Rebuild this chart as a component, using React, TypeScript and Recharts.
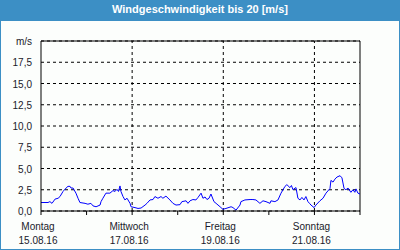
import { LineChart, Line, XAxis, YAxis, CartesianGrid, ReferenceLine } from "recharts"

// hours since Montag 15.08.16 00:00
const hours = [
  0, 3.7, 4.7, 5.8, 7.4, 9.0, 10.0, 11.6, 13.2, 14.2, 15.3, 15.8, 16.9, 18.4, 19.5, 20.5, 23.2, 24.7, 26.3, 27.4,
  29.0, 31.1, 31.6, 32.6, 34.2, 36.3, 37.9, 39.0, 40.0, 40.8, 41.6, 42.1, 43.2, 44.2, 45.3, 46.9, 47.4, 49.5, 51.1, 52.7,
  54.8, 55.8, 57.4, 59.0, 60.0, 61.6, 63.2, 64.2, 65.8, 67.9, 69.5, 71.1, 73.2, 74.2, 76.4, 77.4, 78.5, 80.0, 81.6, 82.7,
  84.3, 85.3, 86.4, 87.4, 88.5, 89.5, 91.1, 92.2, 94.3, 95.8, 97.4, 100.1, 101.1, 102.7, 104.8, 105.3, 107.4, 110.1, 111.6, 113.2,
  115.3, 116.9, 118.5, 120.6, 121.1, 123.2, 124.8, 126.4, 128.5, 129.5, 131.1, 131.9, 132.7, 133.8, 134.3, 135.3, 136.4, 137.4, 138.5, 139.5,
  140.6, 141.4, 142.2, 143.8, 144.8, 146.9, 148.5, 150.1, 152.2, 152.7, 153.8, 154.8, 155.9, 157.5, 158.5, 159.6, 160.6, 161.7, 163.2, 164.3,
  165.3, 165.9, 166.9, 168,
]

const speeds = [
  1.0, 1.0, 1.1, 0.9, 1.4, 1.5, 1.7, 2.3, 2.7, 2.9, 2.9, 2.7, 2.7, 2.1, 1.5, 1.0, 0.9, 0.8, 0.9, 0.6,
  0.5, 0.7, 1.1, 1.5, 2.1, 2.1, 2.4, 2.3, 2.55, 2.3, 2.95, 2.3, 1.7, 1.3, 1.5, 0.9, 0.5, 0.4, 0.3, 0.35,
  0.7, 0.9, 1.3, 1.35, 1.7, 1.5, 1.7, 1.5, 1.75, 1.3, 0.9, 0.7, 0.75, 1.1, 1.2, 0.9, 1.2, 1.35, 1.3, 1.6,
  2.1, 1.5, 1.65, 1.35, 1.5, 2.0, 1.1, 0.9, 0.5, 0.2, 0.3, 0.5, 0.4, 0.1, 0.7, 1.1, 1.3, 1.35, 1.35, 1.3,
  0.9, 1.2, 1.1, 0.9, 1.2, 1.1, 1.3, 2.1, 2.9, 3.1, 2.75, 3.0, 2.5, 2.7, 2.75, 1.5, 1.3, 1.6, 1.3, 1.7,
  1.1, 0.9, 0.7, 0.4, 0.7, 1.2, 1.5, 2.1, 2.65, 3.6, 3.4, 3.75, 4.0, 4.15, 3.9, 2.65, 2.5, 2.7, 2.2, 2.5,
  2.2, 2.6, 2.1, 2.0,
]

const dayTicks = [0, 24, 48, 72, 96, 120, 144, 168]
const dayNames = ["Montag", "Dienstag", "Mittwoch", "Donnerstag", "Freitag", "Samstag", "Sonntag"]
const dayDates = ["15.08.16", "16.08.16", "17.08.16", "18.08.16", "19.08.16", "20.08.16", "21.08.16"]
const labelledDays = [0, 2, 4, 6]
const gridDays = [48, 96, 144]
const yTicks = [0, 2.5, 5, 7.5, 10, 12.5, 15, 17.5, 20]

const data = hours.map((h, i) => ({ h, v: speeds[i] }))

const FONT = "'Liberation Sans', Arial, sans-serif"
const BLUE = "#3c8fc5"

const YTick = ({ x, y, payload }: any) => {
  const label = payload.value === 20 ? "m/s" : payload.value.toFixed(1).replace(".", ",")
  return (
    <text x={x - 1} y={y} dy={4} textAnchor="end" fontSize={10} fontFamily={FONT} fill="#1a1a2a">
      {label}
    </text>
  )
}

const XTick = ({ x, y, payload }: any) => {
  const day = payload.value / 24
  if (!labelledDays.includes(day)) return null
  return (
    <g>
      <text x={x - 3} y={y + 13} textAnchor="middle" fontSize={10} fontFamily={FONT} fill="#1a1a2a">
        {dayNames[day]}
      </text>
      <text x={x - 3} y={y + 27} textAnchor="middle" fontSize={10} fontFamily={FONT} fill="#1a1a2a">
        {dayDates[day]}
      </text>
    </g>
  )
}

export default function App() {
  return (
    <div style={{ position: "relative", width: 400, height: 250, background: "#fcfefc" }}>
      <style>{`body{margin:0}`}</style>
      <div
        style={{
          position: "absolute",
          inset: 0,
          border: `1px solid ${BLUE}`,
          borderTop: "none",
          boxSizing: "border-box",
        }}
      />
      <div
        style={{
          position: "absolute",
          left: 0,
          top: 0,
          width: 400,
          height: 21,
          background: BLUE,
          color: "#ffffff",
          fontFamily: FONT,
          fontWeight: "bold",
          fontSize: 11,
          lineHeight: "19px",
          textAlign: "center",
        }}
      >
        Windgeschwindigkeit bis 20 [m/s]
      </div>
      <div style={{ position: "absolute", left: 0, top: 0 }}>
        <LineChart width={400} height={250} data={data} margin={{ top: 41, right: 40, left: 0, bottom: 0 }}>
          <CartesianGrid vertical={false} stroke="#000" strokeDasharray="3 3" />
          {gridDays.map((d) => (
            <ReferenceLine key={d} x={d} stroke="#000" strokeDasharray="3 3" />
          ))}
          <ReferenceLine y={20} stroke="#000" />
          <ReferenceLine x={168} stroke="#000" />
          <XAxis
            dataKey="h"
            type="number"
            domain={[0, 168]}
            ticks={dayTicks}
            height={39}
            interval={0}
            stroke="#000"
            tickSize={4}
            tick={<XTick />}
          />
          <YAxis
            type="number"
            domain={[0, 20]}
            ticks={yTicks}
            width={41}
            interval={0}
            stroke="#000"
            tickLine={false}
            tick={<YTick />}
          />
          <Line
            type="linear"
            dataKey="v"
            stroke="#0000ff"
            strokeWidth={1}
            dot={false}
            isAnimationActive={false}
          />
        </LineChart>
      </div>
    </div>
  )
}
